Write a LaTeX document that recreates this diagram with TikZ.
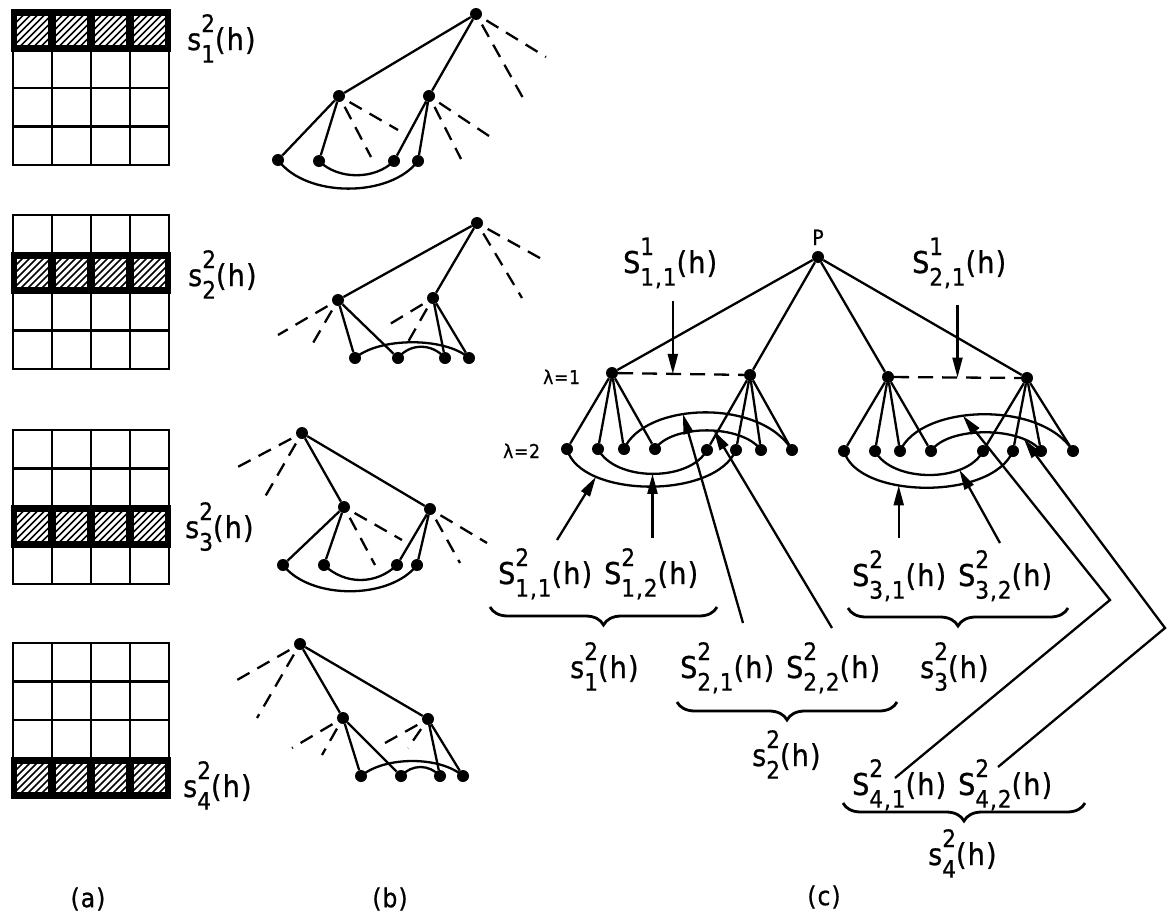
\documentclass[tikz,border=0pt]{standalone}
\usepackage{fontspec}
\setmainfont[FakeStretch=0.9,LetterSpace=4,FakeBold=0.8]{DejaVu Sans}
\usetikzlibrary{arrows.meta,decorations.pathreplacing,calc}
\newcommand{\scr}{\fontsize{24}{24}\selectfont}
\newcommand{\lb}[3]{#1\makebox[0pt][l]{\raisebox{0.6em}{\scr #2}}\raisebox{-0.42em}{\scr #3}}
\begin{document}
\begin{tikzpicture}[x=1pt,y=-1pt,
  ln/.style={line width=2.3pt},
  grd/.style={line width=2.2pt},
  dot/.style={circle,fill=black,inner sep=0pt,minimum size=12pt},
  dsh/.style={line width=2.3pt,dash pattern=on 14pt off 9pt,shorten <=6pt},
  arr/.style={line width=2.3pt,-{Triangle[length=20pt,width=10pt]}},
  lab/.style={inner sep=0pt,anchor=base west,font=\fontsize{30}{34}\selectfont},
  lam/.style={inner sep=0pt,anchor=base west,font=\fontsize{19}{22}\selectfont},
  capt/.style={inner sep=0pt,font=\fontsize{26}{30}\selectfont},
  brc/.style={line width=2.8pt,decorate,decoration={brace,mirror,amplitude=18pt}}]
\fill[white] (0,0) rectangle (1168,913);
\useasboundingbox (0,0) rectangle (1168,913);

% ---------------- (a) grids
\foreach \gt/\r in {11/0,215/1,430/2,643/3}{
  \pgfmathsetmacro\ya{\gt+38.5*\r}
  \pgfmathsetmacro\yb{\ya+38.5}
  \draw[grd] (13,\gt) rectangle (169,{\gt+154});
  \foreach \k in {1,2,3}{
    \draw[grd] ({13+39*\k},\gt) -- ({13+39*\k},{\gt+154});
    \draw[grd] (13,{\gt+38.5*\k}) -- (169,{\gt+38.5*\k});
  }
  \fill (11,{\ya-2}) rectangle (171,{\yb+2});
  \foreach \c in {0,1,2,3}{
    \pgfmathsetmacro\xa{13+39*\c+4}
    \pgfmathsetmacro\xb{13+39*(\c+1)-4}
    \begin{scope}
      \clip (\xa,{\ya+5}) rectangle (\xb,{\yb-5});
      \fill[white] (\xa,{\ya+5}) rectangle (\xb,{\yb-5});
      \foreach \h in {0,...,11}{
        \draw[line width=1.5pt] ({\xa-35+7*\h},{\yb}) -- ++(40,-40);
      }
    \end{scope}
  }
}
\node[lab] (la1) at (187,50) {\lb{s}{2}{1}(h)};
\node[lab] (la2) at (188,286) {\lb{s}{2}{2}(h)};
\node[lab] (la3) at (185,538) {\lb{s}{2}{3}(h)};
\node[lab] (la4) at (183,797) {\lb{s}{2}{4}(h)};

% ---------------- (b) trees
% tree 1
\node[dot] (b1r) at (476,14) {};
\node[dot] (b1a) at (339,96) {};
\node[dot] (b1b) at (429,96) {};
\node[dot] (b1l1) at (278,160) {};
\node[dot] (b1l2) at (319,161) {};
\node[dot] (b1l3) at (394,161) {};
\node[dot] (b1l4) at (418,161) {};
\draw[ln] (b1r)--(b1a) (b1r)--(b1b) (b1a)--(b1l1) (b1a)--(b1l2) (b1b)--(b1l3) (b1b)--(b1l4);
\draw[ln] (b1l2.center) .. controls (338,180) and (375,180) .. (b1l3.center);
\draw[ln] (b1l1.center) .. controls (306,198) and (390,198) .. (b1l4.center);
\coordinate (b1d1) at (546,57); \coordinate (b1d2) at (523,98);
\coordinate (b1d3) at (398,130); \coordinate (b1d4) at (371,157);
\coordinate (b1d5) at (489,136); \coordinate (b1d6) at (461,159);
\draw[dsh] (b1r)--(b1d1); \draw[dsh] (b1r)--(b1d2);
\draw[dsh] (b1a)--(b1d3); \draw[dsh] (b1a)--(b1d4);
\draw[dsh] (b1b)--(b1d5); \draw[dsh] (b1b)--(b1d6);
% tree 2
\node[dot] (b2r) at (477,223) {};
\node[dot] (b2a) at (338,300) {};
\node[dot] (b2b) at (433,298) {};
\node[dot] (b2l1) at (355,358) {};
\node[dot] (b2l2) at (398,358) {};
\node[dot] (b2l3) at (445,358) {};
\node[dot] (b2l4) at (469,358) {};
\draw[ln] (b2r)--(b2a) (b2r)--(b2b) (b2a)--(b2l1) (b2a)--(b2l2) (b2b)--(b2l3) (b2b)--(b2l4);
\draw[ln] (b2l1.center) .. controls (380,337) and (445,337) .. (b2l4.center);
\draw[ln] (b2l2.center) .. controls (410,343) and (432,343) .. (b2l3.center);
\coordinate (b2d1) at (547,262); \coordinate (b2d2) at (522,298);
\coordinate (b2d3) at (278,335); \coordinate (b2d4) at (313,343);
\coordinate (b2d5) at (385,327); \coordinate (b2d6) at (408,342);
\draw[dsh] (b2r)--(b2d1); \draw[dsh] (b2r)--(b2d2);
\draw[dsh] (b2a)--(b2d3); \draw[dsh] (b2a)--(b2d4);
\draw[dsh] (b2b)--(b2d5); \draw[dsh] (b2b)--(b2d6);
% tree 3
\node[dot] (b3r) at (302,433) {};
\node[dot] (b3a) at (344,507) {};
\node[dot] (b3b) at (430,509) {};
\node[dot] (b3l1) at (283,565) {};
\node[dot] (b3l2) at (324,565) {};
\node[dot] (b3l3) at (397,565) {};
\node[dot] (b3l4) at (417,565) {};
\draw[ln] (b3r)--(b3a) (b3r)--(b3b) (b3a)--(b3l1) (b3a)--(b3l2) (b3b)--(b3l3) (b3b)--(b3l4);
\draw[ln] (b3l2.center) .. controls (345,585) and (376,585) .. (b3l3.center);
\draw[ln] (b3l1.center) .. controls (310,600) and (390,600) .. (b3l4.center);
\coordinate (b3d1) at (232,470); \coordinate (b3d2) at (262,502);
\coordinate (b3d3) at (402,540); \coordinate (b3d4) at (375,565);
\coordinate (b3d5) at (487,543); \coordinate (b3d6) at (460,563);
\draw[dsh] (b3r)--(b3d1); \draw[dsh] (b3r)--(b3d2);
\draw[dsh] (b3a)--(b3d3); \draw[dsh] (b3a)--(b3d4);
\draw[dsh] (b3b)--(b3d5); \draw[dsh] (b3b)--(b3d6);
% tree 4
\node[dot] (b4r) at (300,644) {};
\node[dot] (b4a) at (343,718) {};
\node[dot] (b4b) at (428,719) {};
\node[dot] (b4l1) at (361,776) {};
\node[dot] (b4l2) at (401,776) {};
\node[dot] (b4l3) at (440,776) {};
\node[dot] (b4l4) at (463,776) {};
\draw[ln] (b4r)--(b4a) (b4r)--(b4b) (b4a)--(b4l1) (b4a)--(b4l2) (b4b)--(b4l3) (b4b)--(b4l4);
\draw[ln] (b4l1.center) .. controls (385,756) and (440,756) .. (b4l4.center);
\draw[ln] (b4l2.center) .. controls (412,764) and (429,764) .. (b4l3.center);
\coordinate (b4d1) at (237,680); \coordinate (b4d2) at (257,718);
\coordinate (b4d3) at (292,748); \coordinate (b4d4) at (322,755);
\coordinate (b4d5) at (385,743); \coordinate (b4d6) at (408,748);
\draw[dsh] (b4r)--(b4d1); \draw[dsh] (b4r)--(b4d2);
\draw[dsh] (b4a)--(b4d3); \draw[dsh] (b4a)--(b4d4);
\draw[dsh] (b4b)--(b4d5); \draw[dsh] (b4b)--(b4d6);

% ---------------- (c) main tree
\node[dot] (P) at (818,257) {};
\node[inner sep=0pt,anchor=base,font=\fontsize{21}{21}\selectfont] (Plab) at (818,245) {P};
\node[dot] (A) at (612,373) {};
\node[dot] (B) at (750,375) {};
\node[dot] (C) at (888,377) {};
\node[dot] (D) at (1027,378) {};
\foreach \n/\x in {a1/567,a2/598,a3/624,a4/655}{\node[dot] (\n) at (\x,449) {};}
\foreach \n/\x in {b1/707,b2/736,b3/761,b4/792}{\node[dot] (\n) at (\x,450) {};}
\foreach \n/\x in {c1/844,c2/875,c3/900,c4/931}{\node[dot] (\n) at (\x,451) {};}
\foreach \n/\x in {d1/983,d2/1013,d3/1041,d4/1073}{\node[dot] (\n) at (\x,451) {};}
\draw[ln] (P)--(A) (P)--(B) (P)--(C) (P)--(D);
\foreach \p/\q in {A/a1,A/a2,A/a3,A/a4,B/b1,B/b2,B/b3,B/b4,C/c1,C/c2,C/c3,C/c4,D/d1,D/d2,D/d3,D/d4}{\draw[ln] (\p)--(\q);}
\draw[ln,dash pattern=on 15pt off 9pt] (A)--(B) coordinate[pos=0.435] (ab);
\draw[ln,dash pattern=on 15pt off 9pt] (C)--(D) coordinate[pos=0.5] (cd);
% arcs
\draw[ln] (a1.center) .. controls (580,498) and (715,500) .. (b2.center) coordinate[pos=0.25] (t1);
\draw[ln] (a2.center) .. controls (615,482) and (690,482) .. (b1.center) coordinate[pos=0.5] (t2);
\draw[ln] (a3.center) .. controls (645,402) and (760,398) .. (b4.center) coordinate[pos=0.4] (t3);
\draw[ln] (a4.center) .. controls (672,424) and (742,424) .. (b3.center) coordinate[pos=0.55] (t4);
\draw[ln] (c1.center) .. controls (857,499) and (992,501) .. (d2.center) coordinate[pos=0.38] (t5);
\draw[ln] (c2.center) .. controls (892,483) and (967,483) .. (d1.center) coordinate[pos=0.73] (t6);
\draw[ln] (c3.center) .. controls (921,404) and (1041,400) .. (d4.center) coordinate[pos=0.41] (t7);
\draw[ln] (c4.center) .. controls (948,426) and (1022,426) .. (d3.center) coordinate[pos=0.8] (t8);

% labels
\node[lab] (s11) at (623,273) {\lb{S}{1}{1,1}(h)};
\node[lab] (s21) at (912,273) {\lb{S}{1}{2,1}(h)};
\draw[arr] ($(ab)+(0,-73)$) -- (ab);
\draw[arr] ($(cd)+(0,-73)$) -- (cd);
\node[lam] (lam1) at (543,384) {λ=1};
\node[lam] (lam2) at (503,458) {λ=2};

\node[lab] (L1) at (498,584) {\lb{S}{2}{1,1}(h)\hspace{12pt}\lb{S}{2}{1,2}(h)};
\node[lab] (L3) at (852,586) {\lb{S}{2}{3,1}(h)\hspace{12pt}\lb{S}{2}{3,2}(h)};
\node[lab] (l1) at (570,678) {\lb{s}{2}{1}(h)};
\node[lab] (L2) at (680,678) {\lb{S}{2}{2,1}(h)\hspace{12pt}\lb{S}{2}{2,2}(h)};
\node[lab] (l3) at (920,678) {\lb{s}{2}{3}(h)};
\node[lab] (l2) at (752,766) {\lb{s}{2}{2}(h)};
\node[lab] (L4) at (852,795) {\lb{S}{2}{4,1}(h)\hspace{12pt}\lb{S}{2}{4,2}(h)};
\node[lab] (l4) at (928,865) {\lb{s}{2}{4}(h)};

\draw[brc] (490,607) -- (717,607);
\draw[brc] (677,702) -- (897,702);
\draw[brc] (848,608) -- (1068,608);
\draw[brc] (843,803) -- (1085,803);

% arrows to arcs
\coordinate (p1) at (557,540);
\draw[arr] (p1) -- (t1);
\draw[arr] ($(t2)+(0,64)$) -- (t2);
\coordinate (p3) at (743,623);
\draw[arr] (p3) -- (t3);
\coordinate (p4) at (832,628);
\draw[arr] (p4) -- (t4);
\draw[arr] ($(t5)+(0,53)$) -- (t5);
\coordinate (p6) at (1000,543);
\draw[arr] (p6) -- (t6);
\coordinate (p7) at (895,778);
\coordinate (k7) at (1110,600);
\draw[arr] (p7) -- (k7) -- (t7);
\coordinate (p8) at (998,767);
\coordinate (k8) at (1165,628);
\draw[arr] (p8) -- (k8) -- (t8);

% captions
\node[capt] (capa) at (88,899) {(a)};
\node[capt] (capb) at (390,899) {(b)};
\node[capt] (capc) at (824,897) {(c)};
\end{tikzpicture}
\end{document}
